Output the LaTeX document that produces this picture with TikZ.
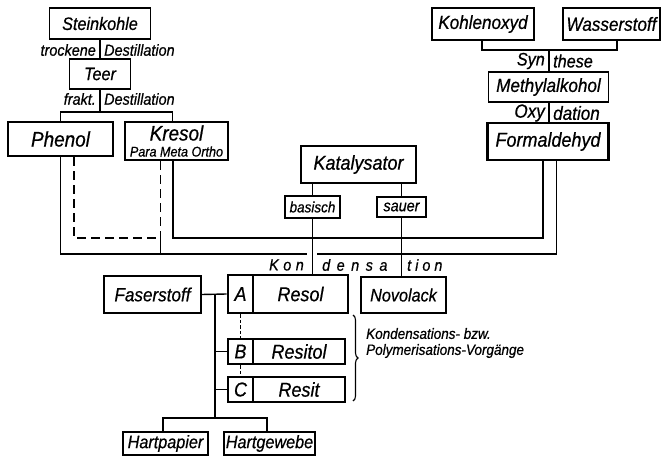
\documentclass[tikz,border=0pt]{standalone}
\usepackage{fontspec}
\setmainfont[FakeStretch=0.9,FakeBold=0.6]{Liberation Sans}
\usetikzlibrary{decorations.pathreplacing}
\begin{document}
\begin{tikzpicture}[x=1pt,y=-1pt,
  fs/.style={font=\itshape\fontsize{#1}{#1}\selectfont},
  box/.style={draw, line width=1.4pt, inner sep=0pt, anchor=center},
  bold box/.style={box, line width=2.6pt},
  lbl/.style={inner sep=0pt},
  ln/.style={line width=1.4pt},
  thk/.style={line width=2.6pt},
  dsh/.style={line width=1.6pt, dash pattern=on 9pt off 5pt},
  dotted link/.style={line width=1.7pt, dash pattern=on 3.5pt off 2pt}]
\useasboundingbox (0,0) rectangle (664,457);

% --- Phenol / Kresol branch ---
\node[box, minimum width=101pt, minimum height=31pt, fs=18] (stein) at (100,23.5) {Steinkohle};
\node[box, minimum width=61pt, minimum height=30pt, fs=18] (teer) at (100,74) {Teer};
\node[bold box, minimum width=105pt, minimum height=34pt, fs=21] (phenol) at (60.5,139) {Phenol};
\node[bold box, minimum width=103pt, minimum height=38pt] (kresol) at (176.5,141) {};
\node[lbl, fs=21] (kresolT) at (176.5,133) {Kresol};
\node[lbl, fs=14] (kresolS) at (176.5,151.5) {Para Meta Ortho};

\node[lbl, anchor=east, fs=16] (l1) at (96,50) {trockene};
\node[lbl, anchor=west, fs=16] (l2) at (104,50) {Destillation};
\node[lbl, anchor=east, fs=16] (l3) at (96,99) {frakt.};
\node[lbl, anchor=west, fs=16] (l4) at (104,99) {Destillation};

\coordinate (fork1) at (100,112);
\draw[ln] (stein.south) -- (teer.north);
\draw[ln] (teer.south) -- (fork1);
\draw[ln] (phenol.north) |- (fork1) -| ([xshift=-4pt]kresol.north);

% --- Formaldehyd branch ---
\node[box, minimum width=102pt, minimum height=32pt, fs=19] (kohlen) at (483,24) {Kohlenoxyd};
\node[box, minimum width=97pt, minimum height=32pt, fs=19] (wasser) at (611.5,24) {Wasserstoff};
\node[box, minimum width=120pt, minimum height=30pt, fs=19] (methyl) at (548.5,87) {Methylalkohol};
\node[bold box, minimum width=121pt, minimum height=37pt, fs=20] (formal) at (548,141.5) {Formaldehyd};

\node[lbl, anchor=east, fs=18] (l5) at (545,61) {Syn};
\node[lbl, anchor=west, fs=18] (l6) at (553,61) {these};
\node[lbl, anchor=east, fs=19] (l7) at (545,113) {Oxy};
\node[lbl, anchor=west, fs=19] (l8) at (553,113) {dation};

\coordinate (fork2) at (549,50);
\draw[ln] ([xshift=-1pt]kohlen.south) |- (fork2) -| ([xshift=5.5pt]wasser.south);
\draw[ln] (fork2) -- (fork2 |- methyl.north);
\draw[ln] (methyl.south -| fork2) -- (formal.north -| fork2);

% --- Katalysator ---
\node[bold box, minimum width=115pt, minimum height=37pt, fs=20] (katal) at (358.5,164.5) {Katalysator};
\node[bold box, minimum width=55pt, minimum height=22pt, fs=15] (basisch) at (312.5,207) {basisch};
\node[box, minimum width=49pt, minimum height=20pt, fs=16] (sauer) at (401.5,207) {sauer};
\draw[ln] (basisch.north) -- (basisch.north |- katal.south);
\draw[ln] (sauer.north) -- (sauer.north |- katal.south);

% --- products ---
\node[box, minimum width=97pt, minimum height=37pt, fs=19] (faser) at (152.5,294.5) {Faserstoff};
\node[bold box, minimum width=25pt, minimum height=38pt, fs=20] (A) at (240.5,294) {A};
\node[bold box, minimum width=95pt, minimum height=38pt, fs=20] (resol) at (300.5,294) {Resol};
\node[box, minimum width=85pt, minimum height=36pt, fs=18] (novo) at (403.5,295) {Novolack};
\node[bold box, minimum width=25pt, minimum height=25pt, fs=20] (B) at (240.5,351.5) {B};
\node[bold box, minimum width=92pt, minimum height=25pt, fs=20] (resitol) at (299,351.5) {Resitol};
\node[bold box, minimum width=25pt, minimum height=25pt, fs=20] (C) at (240.5,389.5) {C};
\node[bold box, minimum width=92pt, minimum height=25pt, fs=20] (resit) at (299,389.5) {Resit};
\node[box, minimum width=85pt, minimum height=23pt, fs=18] (hp) at (165.5,443.5) {Hartpapier};
\node[box, minimum width=91pt, minimum height=23pt, fs=18] (hg) at (269.5,443.5) {Hartgewebe};

\draw[ln] (basisch.south) -- (basisch.south |- resol.north);
\draw[ln] (sauer.south) -- (sauer.south |- novo.north);

% --- collecting lines into the condensation ---
\coordinate (gapL) at (307,254);
\coordinate (gapR) at (317,254);
\coordinate (bus) at (312.5,238);
\coordinate (dashJ) at (160.5,238);
\draw[ln] (phenol.south) |- (gapL);
\draw[ln] (gapR) -| ([xshift=8.5pt]formal.south);
\draw[thk] ([xshift=-3.5pt]kresol.south) |- (bus) -| ([xshift=-5pt]formal.south);
\draw[dsh] ([xshift=13.5pt]phenol.south) |- (dashJ);
\draw[dsh] ([xshift=-16pt]kresol.south) -- (dashJ);
\draw[ln] (dashJ) -- (dashJ |- gapL);

\node[lbl, anchor=east, fs=16] (k1) at (304,265) {K\hspace{4.5pt}o\hspace{4.5pt}n};
\node[lbl, anchor=west, fs=16] (k2) at (322,265) {d\hspace{6.5pt}e\hspace{6.5pt}n\hspace{6.5pt}s\hspace{6.5pt}a};
\node[lbl, anchor=west, fs=16] (k3) at (407,265) {t\hspace{4pt}i\hspace{4pt}o\hspace{4pt}n};

% --- Faserstoff / hardening ---
\coordinate (tr) at (215,418);
\draw[ln] (faser.east) -- (A.west);
\draw[ln] (faser.east -| tr) -- (tr);
\draw[ln] (B.west -| tr) -- (B.west);
\draw[ln] (C.west -| tr) -- (C.west);
\draw[ln] ([xshift=-2.5pt]hp.north) |- (tr) -| ([xshift=-2.5pt]hg.north);
\draw[dotted link] (A.south) -- (B.north);
\draw[dotted link] (B.south) -- (C.north);

\coordinate (br1) at (353,315);
\coordinate (br2) at (353,401);
\draw[line width=1.1pt, decorate, decoration={brace, amplitude=5pt}] (br1) -- (br2);
\node[lbl, anchor=west, align=left, font=\itshape\fontsize{15}{16}\selectfont] (kond) at (366,343) {Kondensations- bzw.\\Polymerisations-Vorgänge};
\end{tikzpicture}
\end{document}
